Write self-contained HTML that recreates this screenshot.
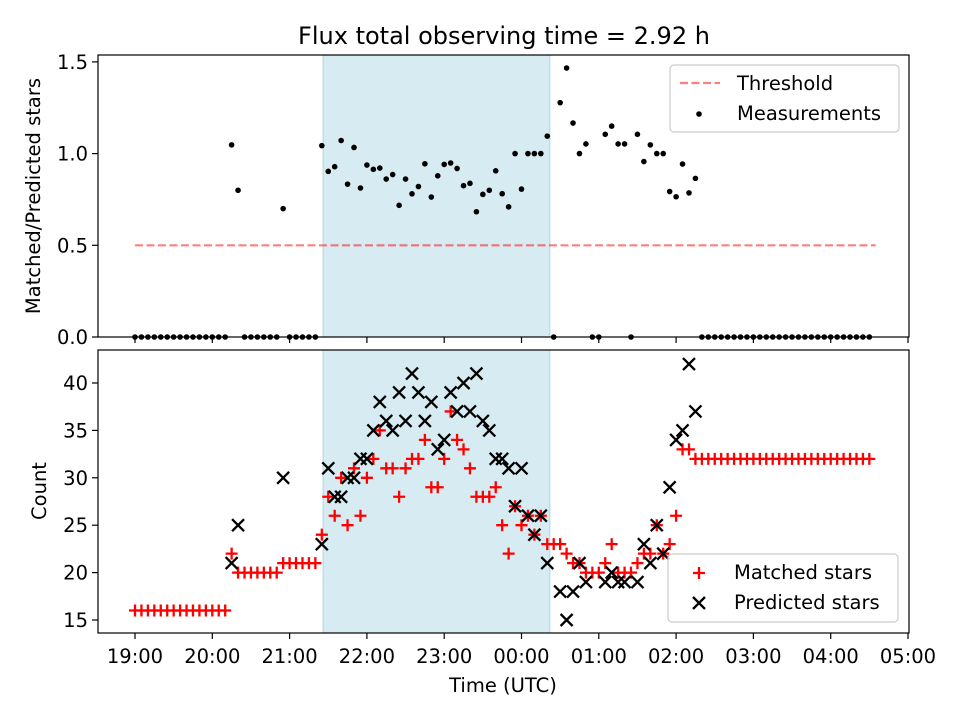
<!DOCTYPE html>
<html><head><meta charset="utf-8"><style>
html,body{margin:0;padding:0;background:#fff;}
svg{display:block;font-family:"DejaVu Sans","Liberation Sans",sans-serif;}
</style></head><body>
<svg id="chart" width="960" height="720" viewBox="0 0 960 720"></svg>
<script>
// Slot index i => minutes after 19:00 = 5*i
const startLabel = "19:00";
const matched = [16,16,16,16,16,16,16,16,16,16,16,16,16,16,16,
 22,20,20,20,20,20,20,20,21,21,21,21,21,21,
 24,28,26,30,25,31,26,30,32,35,31,31,28,31,32,32,34,29,29,32,37,34,33,31,28,28,28,29,25,22,27,25,26,24,26,23,
 23,23,22,21,21,20,20,20,21,23,20,20,20,21,22,22,25,22,23,26,33,33,32,
 32,32,32,32,32,32,32,32,32,32,32,32,32,32,32,32,32,32,32,32,32,32,32,32,32,32,32];
const predicted = [null,null,null,null,null,null,null,null,null,null,null,null,null,null,null,
 21,25,null,null,null,null,null,null,30,null,null,null,null,null,
 23,31,28,28,30,30,32,32,35,38,36,35,39,36,41,39,36,38,33,34,39,37,40,37,41,36,35,32,32,31,27,31,26,24,26,21,
 null,18,15,18,21,19,null,null,19,20,19,19,null,19,23,21,25,22,29,34,35,42,37,
 null,null,null,null,null,null,null,null,null,null,null,null,null,null,null,null,null,null,null,null,null,null,null,null,null,null,null];
const xTickLabels = ["19:00","20:00","21:00","22:00","23:00","00:00","01:00","02:00","03:00","04:00","05:00"];
const topTickLabels = ["0.0","0.5","1.0","1.5"];
const topTickValues = [0,0.5,1.0,1.5];
const botTickValues = [15,20,25,30,35,40];
const shadeStartMin = 146;
const shadeEndMin = 322;
const threshold = 0.5;
const thresholdStartMin = 0;
const thresholdEndMin = 575;

const NS="http://www.w3.org/2000/svg";
const svg=document.getElementById('chart');
function mk(tag,attrs,parent){const e=document.createElementNS(NS,tag);for(const k in attrs)e.setAttribute(k,attrs[k]);(parent||svg).appendChild(e);return e;}
const L=98,R=909,T1=55,B1=337,T2=350,B2=633;
const FS=19.5;
function xs(min){return 135+min/60*77.3;}
function y1(v){return 337-v*183.4;}
function y2(v){return 620-(v-15)*9.48;}

let t=mk('text',{x:504,y:44,'text-anchor':'middle','font-size':'24'});t.textContent='Flux total observing time = 2.92 h';



[[T1,B1],[T2,B2]].forEach(([a,b],k)=>{
 const r=mk('rect',{x:xs(shadeStartMin),y:a,width:xs(shadeEndMin)-xs(shadeStartMin),height:b-a,fill:'#add8e6','fill-opacity':'0.5',stroke:'#add8e6','stroke-width':1});
 
 
});

const th=mk('line',{x1:xs(thresholdStartMin),x2:xs(thresholdEndMin),y1:y1(threshold),y2:y1(threshold),stroke:'#ff0000','stroke-opacity':'0.5','stroke-width':2.2,'stroke-dasharray':'8,3.5'});



const gm=mk('g',{});


matched.forEach((m,i)=>{
 const p=predicted[i];
 const r=(p===null||p===undefined)?0:m/p;
 const c=mk('circle',{cx:xs(i*5),cy:y1(r),r:2.8,fill:'#000'},gm);
 
 
});

const gp=mk('g',{stroke:'#ff0000','stroke-width':2.3});


matched.forEach((m,i)=>{
 const x=xs(i*5),y=y2(m);
 const p=mk('path',{d:`M${x-6},${y}H${x+6}M${x},${y-6}V${y+6}`},gp);
 
 
});
const gx=mk('g',{stroke:'#000','stroke-width':2.3});


predicted.forEach((v,i)=>{
 if(v===null)return;
 const x=xs(i*5),y=y2(v);
 const p=mk('path',{d:`M${x-6},${y-6}L${x+6},${y+6}M${x-6},${y+6}L${x+6},${y-6}`},gx);
 
 
});

[[T1,B1],[T2,B2]].forEach(([a,b],k)=>{
 const f=mk('rect',{x:L,y:a,width:R-L,height:b-a,fill:'none',stroke:'#000','stroke-width':1.2});
 
 
});

xTickLabels.forEach((lab,k)=>{
 const x=xs(k*60);
 mk('line',{x1:x,x2:x,y1:B1,y2:B1+6,stroke:'#000','stroke-width':1.2});
 mk('line',{x1:x,x2:x,y1:B2,y2:B2+6,stroke:'#000','stroke-width':1.2});
 const tx=mk('text',{x:x,y:B2+30,'text-anchor':'middle','font-size':FS});tx.textContent=lab;
 
 
});
topTickValues.forEach((v,k)=>{
 const y=y1(v);
 mk('line',{x1:L-6,x2:L,y1:y,y2:y,stroke:'#000','stroke-width':1.2});
 const tx=mk('text',{x:L-10,y:y+7,'text-anchor':'end','font-size':FS});tx.textContent=topTickLabels[k];
 
 
});
botTickValues.forEach(v=>{
 const y=y2(v);
 mk('line',{x1:L-6,x2:L,y1:y,y2:y,stroke:'#000','stroke-width':1.2});
 const tx=mk('text',{x:L-10,y:y+7,'text-anchor':'end','font-size':FS});tx.textContent=String(v);
 
 
});
let a1=mk('text',{x:0,y:0,'text-anchor':'middle','font-size':FS,transform:'translate(40,196) rotate(-90)'});a1.textContent='Matched/Predicted stars';


let a2=mk('text',{x:0,y:0,'text-anchor':'middle','font-size':FS,transform:'translate(46,491) rotate(-90)'});a2.textContent='Count';


let a3=mk('text',{x:503,y:692,'text-anchor':'middle','font-size':FS});a3.textContent='Time (UTC)';



const lg1=mk('g',{});


mk('rect',{x:670,y:65,width:229,height:67,rx:4,fill:'#fff','fill-opacity':'0.8',stroke:'#ccc','stroke-width':1.2},lg1);
mk('line',{x1:680,x2:720,y1:83,y2:83,stroke:'#ff0000','stroke-opacity':'0.5','stroke-width':2.2,'stroke-dasharray':'8,3.5'},lg1);
let l1=mk('text',{x:737,y:90,'font-size':FS},lg1);l1.textContent='Threshold';
mk('circle',{cx:699,cy:114,r:2.8,fill:'#000'},lg1);
let l2=mk('text',{x:737,y:120,'font-size':FS},lg1);l2.textContent='Measurements';

const lg2=mk('g',{});


mk('rect',{x:668,y:554,width:230,height:68,rx:4,fill:'#fff','fill-opacity':'0.8',stroke:'#ccc','stroke-width':1.2},lg2);
mk('path',{d:'M693,573H705M699,567V579',stroke:'#ff0000','stroke-width':2.3},lg2);
let l3=mk('text',{x:734,y:579,'font-size':FS},lg2);l3.textContent='Matched stars';
mk('path',{d:'M693,597L705,609M693,609L705,597',stroke:'#000','stroke-width':2.3},lg2);
let l4=mk('text',{x:734,y:609,'font-size':FS},lg2);l4.textContent='Predicted stars';
</script>
</body></html>
